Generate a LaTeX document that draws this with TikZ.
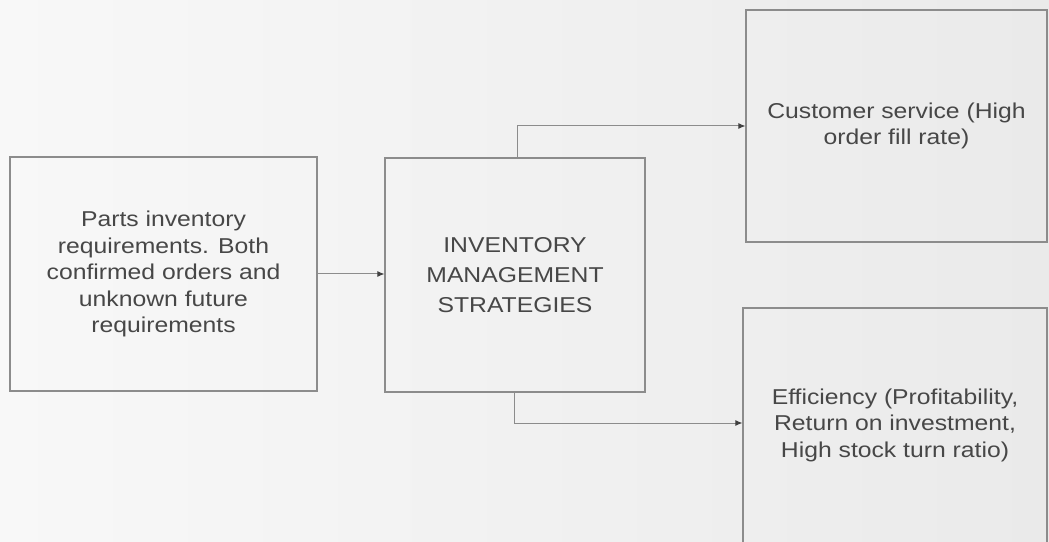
\documentclass[tikz,border=0pt]{standalone}
\usepackage{fontspec}
\newfontfamily\boxfont{Liberation Sans}[FakeStretch=1.15]
\usetikzlibrary{arrows.meta}
\definecolor{boxline}{HTML}{8C8C8C}
\definecolor{boxtext}{HTML}{474747}
\definecolor{paperleft}{HTML}{F8F8F8}
\definecolor{paperright}{HTML}{EAEAEA}

\begin{document}
\begin{tikzpicture}[x=1pt,y=1pt,
    box/.style={draw=boxline, line width=1.1pt, rectangle, inner sep=0pt, align=center,
        text=boxtext, font=\boxfont\fontsize{21.5}{26.5}\selectfont},
    flow/.style={draw=boxline, line width=1pt, -{Latex[length=7pt,width=6pt,color=black!75]}}]
                % Paper
                \useasboundingbox (0,0) rectangle (1049,541);
                \shade[left color=paperleft, right color=paperright] (0,0) rectangle (1049,541);

                % Boxes
                \node[box, minimum width=307pt, minimum height=234pt] (parts) at (163.5,267)
                    {Parts inventory\\requirements. Both\\confirmed orders and\\unknown future\\requirements};
                \node[box, minimum width=260pt, minimum height=234pt,
                    font=\boxfont\fontsize{21.5}{30}\selectfont] (strat) at (515,266)
                    {INVENTORY\\MANAGEMENT\\STRATEGIES};
                \node[box, minimum width=301pt, minimum height=232pt] (cust) at (896.5,415)
                    {Customer service (High\\order fill rate)};
                \node[box, minimum width=304pt, minimum height=260pt, text depth=30pt] (eff) at (895,103)
                    {Efficiency (Profitability,\\Return on investment,\\High stock turn ratio)};

                % Arrows
                \draw[flow] (parts.east) -- (parts.east -| strat.west);
                \draw[flow] ([xshift=2pt]strat.north) |- (cust.west);
                \draw[flow] ([xshift=-1pt]strat.south) |- ([yshift=15pt]eff.west);
            \end{tikzpicture}
\end{document}
